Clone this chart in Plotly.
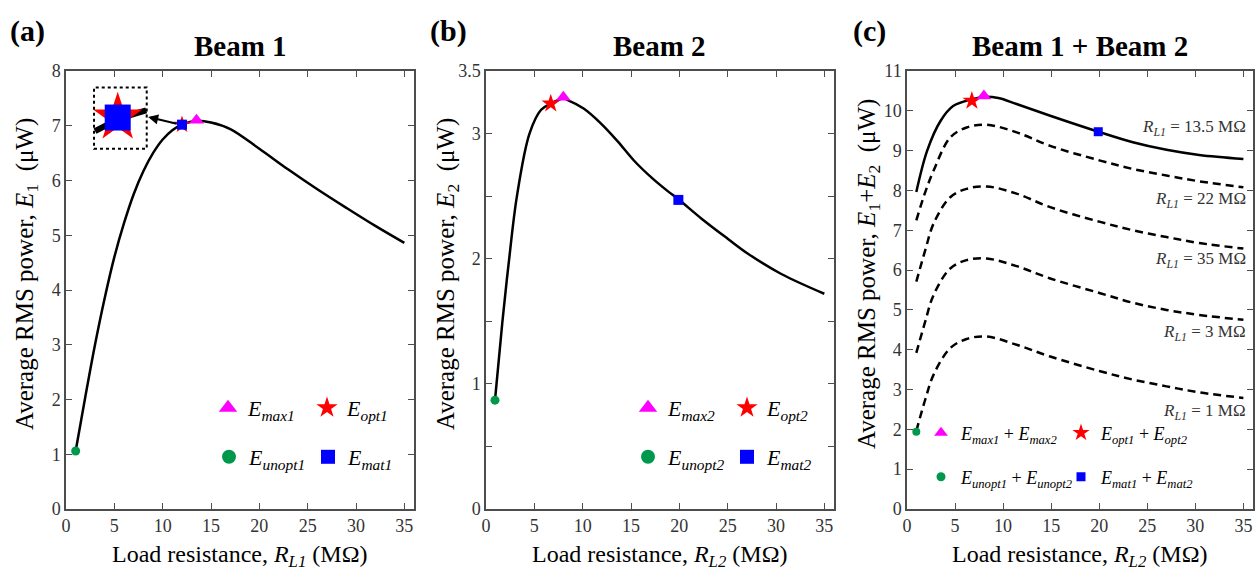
import plotly.graph_objects as go

FONT = "Liberation Serif"
W, H = 1259, 576

# ---- data ----
x_ticks = [0, 5, 10, 15, 20, 25, 30, 35]

# (a) Beam 1
a_x = [1.0, 2.0, 3.0, 4.0, 5.0, 6.0, 7.0, 8.0, 9.0, 10.0, 11.0, 12.0, 13.5, 15.0, 17.0, 20.0, 23.0, 26.0, 29.0, 32.0, 35.0]
a_y = [1.06, 2.05, 3.0, 3.85, 4.6, 5.22, 5.75, 6.17, 6.5, 6.75, 6.92, 7.02, 7.09, 7.06, 6.94, 6.58, 6.2, 5.84, 5.5, 5.17, 4.86]
a_inset_x = [3.0, 5.5, 8.3]
a_inset_y = [6.90, 7.12, 7.28]
a_inset_marker = [5.35, 7.15]
a_max = [13.5, 7.10]
a_opt = [12.0, 7.02]
a_mat = [12.0, 7.02]
a_unopt = [1.0, 1.06]

# (b) Beam 2
b_x = [0.93, 1.7, 2.4, 3.2, 4.5, 5.7, 6.7, 8.0, 8.4, 10.1, 11.9, 13.6, 15.3, 17.1, 18.8, 19.9, 22.3, 25.0, 27.1, 30.5, 35.0]
b_y = [0.87, 1.5, 2.0, 2.5, 3.0, 3.19, 3.24, 3.28, 3.27, 3.20, 3.08, 2.94, 2.785, 2.65, 2.54, 2.475, 2.32, 2.16, 2.04, 1.88, 1.72]
b_max = [8.0, 3.29]
b_opt = [6.7, 3.24]
b_mat = [19.9, 2.47]
b_unopt = [0.93, 0.87]

# (c) Beam 1 + Beam 2
c_main_x = [0.97, 2.1, 3.5, 4.8, 6.75, 8.0, 9.5, 11.4, 14.9, 19.9, 23.5, 27.0, 30.4, 35.0]
c_main_y = [7.96, 9.0, 9.75, 10.12, 10.29, 10.35, 10.32, 10.17, 9.875, 9.475, 9.21, 9.02, 8.89, 8.79]
c_x = [0.97, 1.9, 2.77, 4.5, 6.2, 8.3, 11.4, 14.9, 20.1, 23.5, 27.0, 30.4, 35.0]
c_22 = [7.25, 7.96, 8.5, 9.33, 9.58, 9.65, 9.46, 9.12, 8.75, 8.54, 8.375, 8.23, 8.08]
c_35 = [5.71, 6.5, 7.17, 7.83, 8.04, 8.1, 7.92, 7.58, 7.21, 7.0, 6.83, 6.68, 6.54]
c_3 = [3.92, 4.71, 5.375, 6.04, 6.25, 6.29, 6.1, 5.79, 5.42, 5.18, 5.0, 4.875, 4.75]
c_1 = [1.96, 2.75, 3.375, 4.04, 4.27, 4.33, 4.125, 3.83, 3.46, 3.25, 3.08, 2.93, 2.79]
c_max = [8.0, 10.37]
c_opt = [6.75, 10.25]
c_mat = [19.9, 9.475]
c_unopt = [0.97, 1.94]
c_labels = ["13.5", "22", "35", "3", "1"]
c_label_y = [9.57, 7.76, 6.26, 4.42, 2.44]

MAGENTA, RED, GREEN, BLUE = "#ff00ff", "#ff0000", "#00994c", "#0000ff"

fig = go.Figure()


def curve(x, y, ax, dash=None, width=2.5):
    fig.add_trace(go.Scatter(x=x, y=y, mode="lines", line_shape="spline",
                             line=dict(color="black", width=width, dash=dash),
                             xaxis="x" + ax, yaxis="y" + ax, showlegend=False,
                             hoverinfo="skip"))


def point(p, ax, symbol, color, size):
    fig.add_trace(go.Scatter(x=[p[0]], y=[p[1]], mode="markers",
                             marker=dict(symbol=symbol, color=color, size=size,
                                         line=dict(width=0)),
                             xaxis="x" + ax, yaxis="y" + ax, showlegend=False))


def legend_entry(name, legend, symbol, color, size):
    fig.add_trace(go.Scatter(x=[None], y=[None], mode="markers", name=name,
                             marker=dict(symbol=symbol, color=color, size=size),
                             legend=legend, showlegend=True))


# (a)
curve(a_x, a_y, "")
fig.add_trace(go.Scatter(x=a_inset_x, y=a_inset_y, mode="lines", line_shape="spline",
                         line=dict(color="black", width=6), showlegend=False))
point(a_inset_marker, "", "star", RED, 37)
point(a_inset_marker, "", "square", BLUE, 26)
point(a_unopt, "", "circle", GREEN, 9)
point(a_opt, "", "star", RED, 13)
point(a_mat, "", "square", BLUE, 10)
point(a_max, "", "triangle-up", MAGENTA, 13)

# (b)
curve(b_x, b_y, "2")
point(b_unopt, "2", "circle", GREEN, 9)
point(b_opt, "2", "star", RED, 14)
point(b_max, "2", "triangle-up", MAGENTA, 13)
point(b_mat, "2", "square", BLUE, 10)

# (c)
curve(c_main_x, c_main_y, "3")
for ys in (c_22, c_35, c_3, c_1):
    curve(c_x, ys, "3", dash="8px,5px")
point(c_unopt, "3", "circle", GREEN, 8)
point(c_opt, "3", "star", RED, 14)
point(c_max, "3", "triangle-up", MAGENTA, 13)
point(c_mat, "3", "square", BLUE, 9)


def E(sub):
    return "<i>E</i><sub><i>%s</i></sub>" % sub


# legends
legend_entry(E("max1"), "legend", "triangle-up", MAGENTA, 18)
legend_entry(E("opt1"), "legend", "star", RED, 18)
legend_entry(E("unopt1"), "legend2", "circle", GREEN, 14)
legend_entry(E("mat1"), "legend2", "square", BLUE, 14)
legend_entry(E("max2"), "legend3", "triangle-up", MAGENTA, 18)
legend_entry(E("opt2"), "legend3", "star", RED, 18)
legend_entry(E("unopt2"), "legend4", "circle", GREEN, 14)
legend_entry(E("mat2"), "legend4", "square", BLUE, 14)
legend_entry(E("max1") + " + " + E("max2"), "legend5", "triangle-up", MAGENTA, 12)
legend_entry(E("opt1") + " + " + E("opt2"), "legend5", "star", RED, 13)
legend_entry(E("unopt1") + " + " + E("unopt2"), "legend6", "circle", GREEN, 9)
legend_entry(E("mat1") + " + " + E("mat2"), "legend6", "square", BLUE, 9)


def leg(x_px, y_px, size, entry):
    return dict(x=(x_px - 20) / W, y=1 - y_px / H, xanchor="left", yanchor="middle",
                orientation="h", entrywidth=entry, bgcolor="rgba(0,0,0,0)",
                font=dict(family=FONT, size=size, color="black"),
                itemsizing="trace", traceorder="normal")


axis_style = dict(showline=True, linecolor="#4d4d4d", linewidth=1.5, mirror="ticks",
                  ticks="inside", ticklen=6, tickwidth=1.2, tickcolor="#4d4d4d",
                  showgrid=False, zeroline=False, automargin=False,
                  tickfont=dict(family=FONT, size=18, color="#333333"))

ydom = [67 / H, 505 / H]
fig.update_layout(
    width=W, height=H, margin=dict(l=0, r=0, t=0, b=0),
    plot_bgcolor="white", paper_bgcolor="white",
    font=dict(family=FONT, color="black"),
    xaxis=dict(axis_style, domain=[66 / W, 414 / W], range=[0, 36], tickvals=x_ticks, anchor="y"),
    yaxis=dict(axis_style, domain=ydom, range=[0, 8], dtick=1, anchor="x"),
    xaxis2=dict(axis_style, domain=[486 / W, 834 / W], range=[0, 36], tickvals=x_ticks, anchor="y2"),
    yaxis2=dict(axis_style, domain=ydom, range=[0, 3.5], anchor="x2",
                tickvals=[0, 0.5, 1, 1.5, 2, 2.5, 3, 3.5],
                ticktext=["0", "", "1", "", "2", "", "3", "3.5"]),
    xaxis3=dict(axis_style, domain=[907 / W, 1253 / W], range=[0, 36], tickvals=x_ticks, anchor="y3"),
    yaxis3=dict(axis_style, domain=ydom, range=[0, 11], dtick=1, anchor="x3"),
    legend=leg(228, 408, 22, 54),
    legend2=leg(229, 457, 22, 54),
    legend3=leg(648, 408, 22, 54),
    legend4=leg(648, 457, 22, 54),
    legend5=leg(941, 433, 18, 95),
    legend6=leg(941, 477, 18, 95),
)

# inset box in (a)
fig.add_shape(type="rect", x0=2.9, x1=8.35, y0=6.58, y1=7.70, xref="x", yref="y",
              line=dict(color="black", width=2, dash="dot"))
fig.add_annotation(x=8.5, y=7.16, ax=11.6, ay=7.03, xref="x", yref="y", axref="x", ayref="y",
                   text="", showarrow=True, arrowhead=2, arrowsize=1, arrowwidth=2,
                   arrowcolor="black")

ann = []
for txt, xc in (("(a)", 27), ("(b)", 448), ("(c)", 869)):
    ann.append(dict(text="<b>%s</b>" % txt, x=xc / W, y=1 - 31 / H, font=dict(size=30)))
for txt, xc in (("Beam 1", 240), ("Beam 2", 660), ("Beam 1 + Beam 2", 1080)):
    ann.append(dict(text="<b>%s</b>" % txt, x=xc / W, y=1 - 46 / H, font=dict(size=29)))
for sub, xc in (("L1", 240), ("L2", 660), ("L2", 1080)):
    ann.append(dict(text="Load resistance, <i>R</i><sub><i>%s</i></sub> (MΩ)" % sub,
                    x=xc / W, y=1 - 556 / H, font=dict(size=24)))
ylabels = ["Average RMS power, <i>E</i><sub>1</sub>\u00a0 (μW)",
           "Average RMS power, <i>E</i><sub>2</sub>\u00a0 (μW)",
           "Average RMS power, <i>E</i><sub>1</sub>+<i>E</i><sub>2</sub>\u00a0 (μW)"]
for txt, xc in zip(ylabels, (26, 447, 868)):
    ann.append(dict(text=txt, x=xc / W, y=1 - 274 / H, textangle=-90, font=dict(size=25)))
for a in ann:
    fig.add_annotation(xref="paper", yref="paper", showarrow=False,
                       xanchor="center", yanchor="middle", **a)

for lab, yv in zip(c_labels, c_label_y):
    fig.add_annotation(text="<i>R</i><sub><i>L1</i></sub> = %s MΩ" % lab, xref="x3 domain",
                       yref="y3", x=0.985, y=yv, xanchor="right", yanchor="middle",
                       showarrow=False, font=dict(size=17, color="#333333"))

fig.write_html("out.html", config={"displayModeBar": False},
               post_script="document.body.style.margin='0px';")
